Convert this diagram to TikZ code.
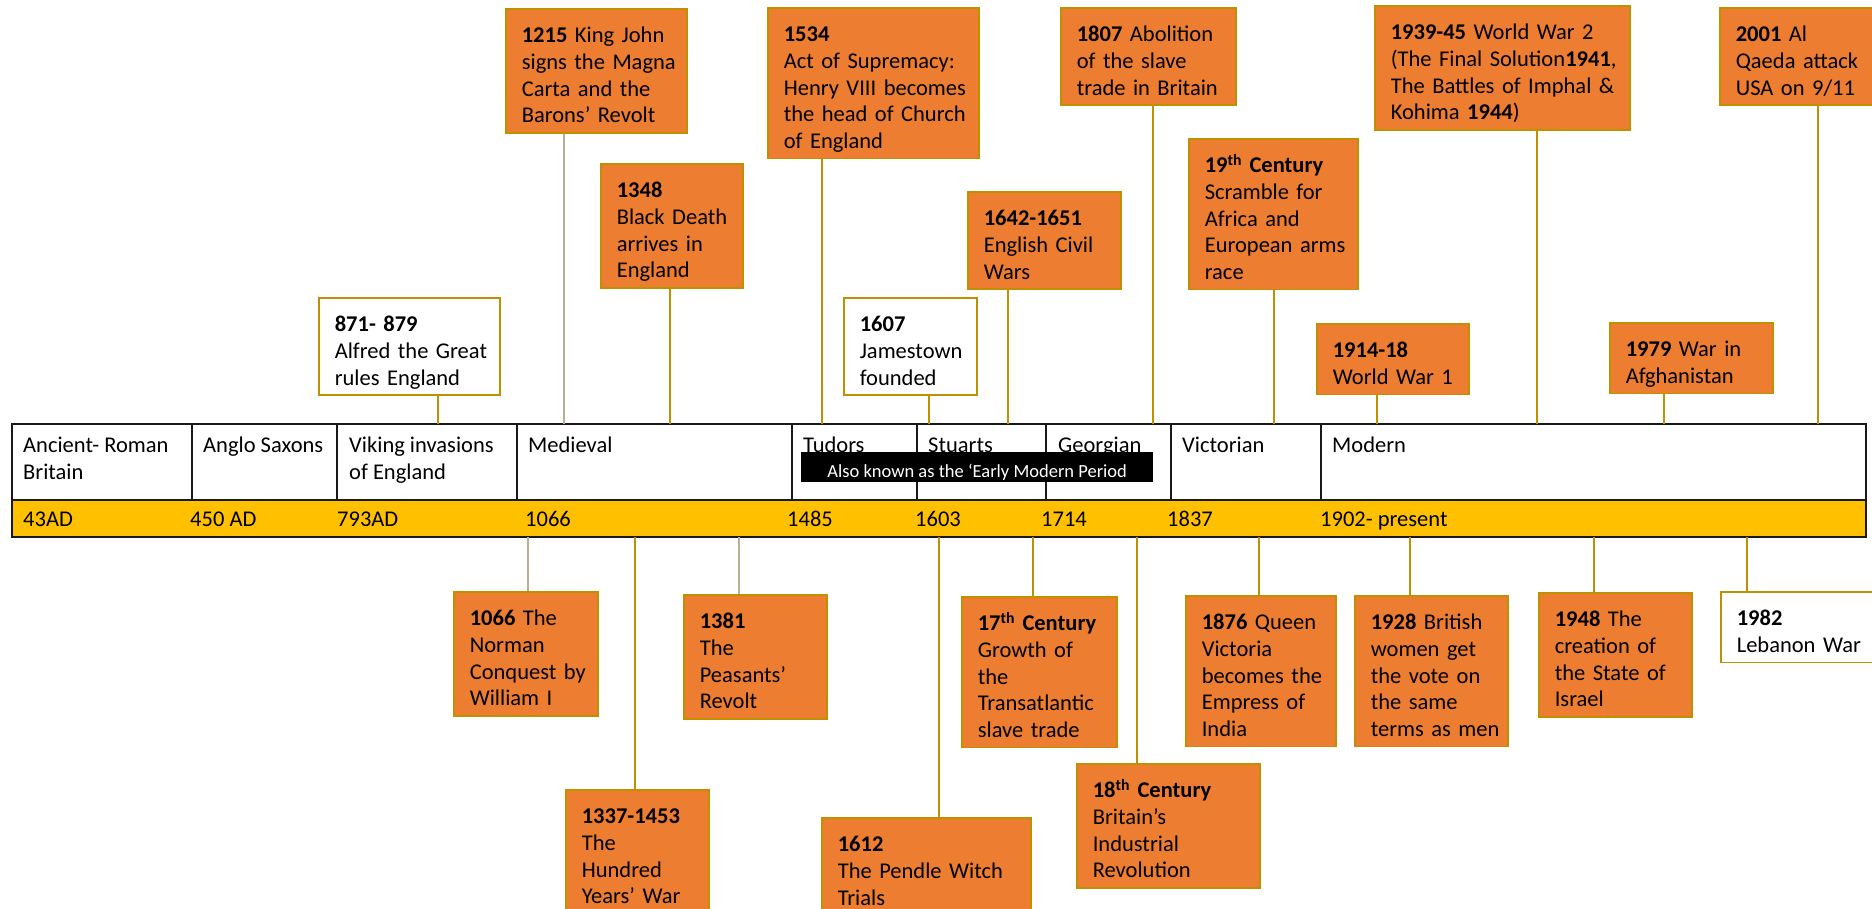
\documentclass[tikz,border=0pt]{standalone}
\usepackage{fontspec}
\setmainfont{Carlito}
\definecolor{evorange}{HTML}{ED7D31}
\definecolor{evgold}{HTML}{BF9000}
\definecolor{bandyellow}{HTML}{FFC000}
\definecolor{paleline}{HTML}{B9AE90}
\newcommand{\evt}[1]{\begin{tabular}[t]{@{}l@{}}#1\end{tabular}}
\tikzset{
  ev/.style={draw=evgold, line width=1.6pt, fill=evorange, anchor=north west,
    inner xsep=16pt, inner ysep=0pt, text height=34pt,
    font=\fontsize{22.5}{26.7}\selectfont},
  wev/.style={ev, fill=white},
  L2/.style={text depth=36.7pt},
  L3/.style={text depth=63.4pt},
  L4/.style={text depth=90.1pt},
  L5/.style={text depth=116.8pt},
  conn/.style={draw=evgold, line width=1.2pt},
  pconn/.style={draw=paleline, line width=1.2pt},
  bandline/.style={draw=black!90, line width=1.6pt},
  period/.style={anchor=base west, inner sep=0pt, font=\fontsize{22.5}{27}\selectfont},
  note/.style={fill=black, text=white, anchor=north west, inner sep=0pt,
    minimum width=352pt, text height=25pt, text depth=5pt,
    font=\fontsize{18.5}{22}\selectfont},
}
\begin{document}
\begin{tikzpicture}[x=1pt, y=-1pt]
\useasboundingbox (0,0) rectangle (1872,909);
\clip (0,0) rectangle (1872,909);
\fill[white] (0,0) rectangle (1872,909);

% anchor points on the period band
\foreach \n/\x in {871/438, 1215/564, 1348/670, 1534/822, 1607/929, 1642/1008,
  1807/1153, 19c/1274, 1914/1377, 1939/1537, 1979/1664, 2001/1818}
  \coordinate (u\n) at (\x,424);
\foreach \n/\x in {1066/528, 1337/635, 1381/739, 1612/939, 17c/1033, 18c/1137,
  1876/1259, 1928/1410, 1948/1594, 1982/1747}
  \coordinate (d\n) at (\x,537);

% period band
\draw[bandline, fill=white] (12,424) rectangle (1866,500);
\draw[bandline, fill=bandyellow] (12,500) rectangle (1866,537);
\foreach \x in {192, 337, 517, 792, 917, 1046, 1171, 1321}
  \draw[bandline] (\x,424) -- (\x,500);

\node[period] (p1) at (23,452) {\evt{Ancient- Roman\\Britain}};
\node[period] (p2) at (203,452) {Anglo Saxons};
\node[period] (p3) at (349,452) {\evt{Viking invasions\\of England}};
\node[period] (p4) at (528,452) {Medieval};
\node[period] (p5) at (803,452) {Tudors};
\node[period] (p6) at (928,452) {Stuarts};
\node[period] (p7) at (1058,452) {Georgian};
\node[period] (p8) at (1182,452) {Victorian};
\node[period] (p9) at (1332,452) {Modern};

\node[period] (y1) at (23,526) {43AD};
\node[period] (y2) at (190,526) {450 AD};
\node[period] (y3) at (337,526) {793AD};
\node[period] (y4) at (525,526) {1066};
\node[period] (y5) at (787,526) {1485};
\node[period] (y6) at (915,526) {1603};
\node[period] (y7) at (1041,526) {1714};
\node[period] (y8) at (1167,526) {1837};
\node[period] (y9) at (1320,526) {1902- present};

\node[note] (early) at (801,452) {Also known as the ‘Early Modern Period};

% events above the band
\node[wev,L3,text width=149pt] (b871) at (318,297) {\evt{\textbf{871- 879}\\Alfred the Great\\rules England}};
\node[ev,L4,text width=149pt] (b1215) at (505,8) {\evt{\textbf{1215} King John\\signs the Magna\\Carta and the\\Barons’ Revolt}};
\node[ev,L4,text width=110pt] (b1348) at (600,163) {\evt{\textbf{1348}\\Black Death\\arrives in\\England}};
\node[ev,L5,text width=179pt] (b1534) at (767,7) {\evt{\textbf{1534}\\Act of Supremacy:\\Henry VIII becomes\\the head of Church\\of England}};
\node[wev,L3,text width=101pt] (b1607) at (843,297) {\evt{\textbf{1607}\\Jamestown\\founded}};
\node[ev,L3,text width=121pt] (b1642) at (967,191) {\evt{\textbf{1642-1651}\\English Civil\\Wars}};
\node[ev,L3,text width=143pt] (b1807) at (1060,7) {\evt{\textbf{1807} Abolition\\of the slave\\trade in Britain}};
\node[ev,L5,text width=137pt] (b19c) at (1188,138) {\evt{\textbf{19\textsuperscript{th} Century}\\Scramble for\\Africa and\\European arms\\race}};
\node[ev,L2,text width=120pt] (b1914) at (1316,323) {\evt{\textbf{1914-18}\\World War 1}};
\node[ev,L4,text width=223pt] (b1939) at (1374,5) {\evt{\textbf{1939-45} World War 2\\(The Final Solution\textbf{1941},\\The Battles of Imphal \&\\Kohima \textbf{1944})}};
\node[ev,L2,text width=131pt] (b1979) at (1609,322) {\evt{\textbf{1979} War in\\Afghanistan}};
\node[ev,L3,text width=129pt] (b2001) at (1719,7) {\evt{\textbf{2001} Al\\Qaeda attack\\USA on 9/11}};

% events below the band
\node[ev,L4,text width=112pt] (b1066) at (453,591) {\evt{\textbf{1066} The\\Norman\\Conquest by\\William I}};
\node[ev,L4,text width=111pt] (b1337) at (565,789) {\evt{\textbf{1337-1453}\\The\\Hundred\\Years’ War}};
\node[ev,L4,text width=111pt] (b1381) at (683,594) {\evt{\textbf{1381}\\The\\Peasants’\\Revolt}};
\node[ev,L3,text width=177pt] (b1612) at (821,817) {\evt{\textbf{1612}\\The Pendle Witch\\Trials}};
\node[ev,L5,text width=123pt] (b17c) at (961,596) {\evt{\textbf{17\textsuperscript{th} Century}\\Growth of\\the\\Transatlantic\\slave trade}};
\node[ev,L4,text width=151pt] (b18c) at (1076,763) {\evt{\textbf{18\textsuperscript{th} Century}\\Britain’s\\Industrial\\Revolution}};
\node[ev,L5,text width=118pt] (b1876) at (1185,595) {\evt{\textbf{1876} Queen\\Victoria\\becomes the\\Empress of\\India}};
\node[ev,L5,text width=121pt] (b1928) at (1354,595) {\evt{\textbf{1928} British\\women get\\the vote on\\the same\\terms as men}};
\node[ev,L4,text width=121pt] (b1948) at (1538,592) {\evt{\textbf{1948} The\\creation of\\the State of\\Israel}};
\node[wev,L2,text width=128pt] (b1982) at (1720,591) {\evt{\textbf{1982}\\Lebanon War}};

% connectors
\foreach \n in {871, 1348, 1534, 1607, 1642, 1807, 19c, 1914, 1939, 1979, 2001}
  \draw[conn] (b\n.south -| u\n) -- (u\n);
\draw[pconn] (b1215.south -| u1215) -- (u1215);
\foreach \n in {1337, 1612, 17c, 18c, 1876, 1928, 1948, 1982}
  \draw[conn] (d\n) -- (b\n.north -| d\n);
\draw[pconn] (d1066) -- (b1066.north -| d1066);
\draw[pconn] (d1381) -- (b1381.north -| d1381);
\end{tikzpicture}
\end{document}
